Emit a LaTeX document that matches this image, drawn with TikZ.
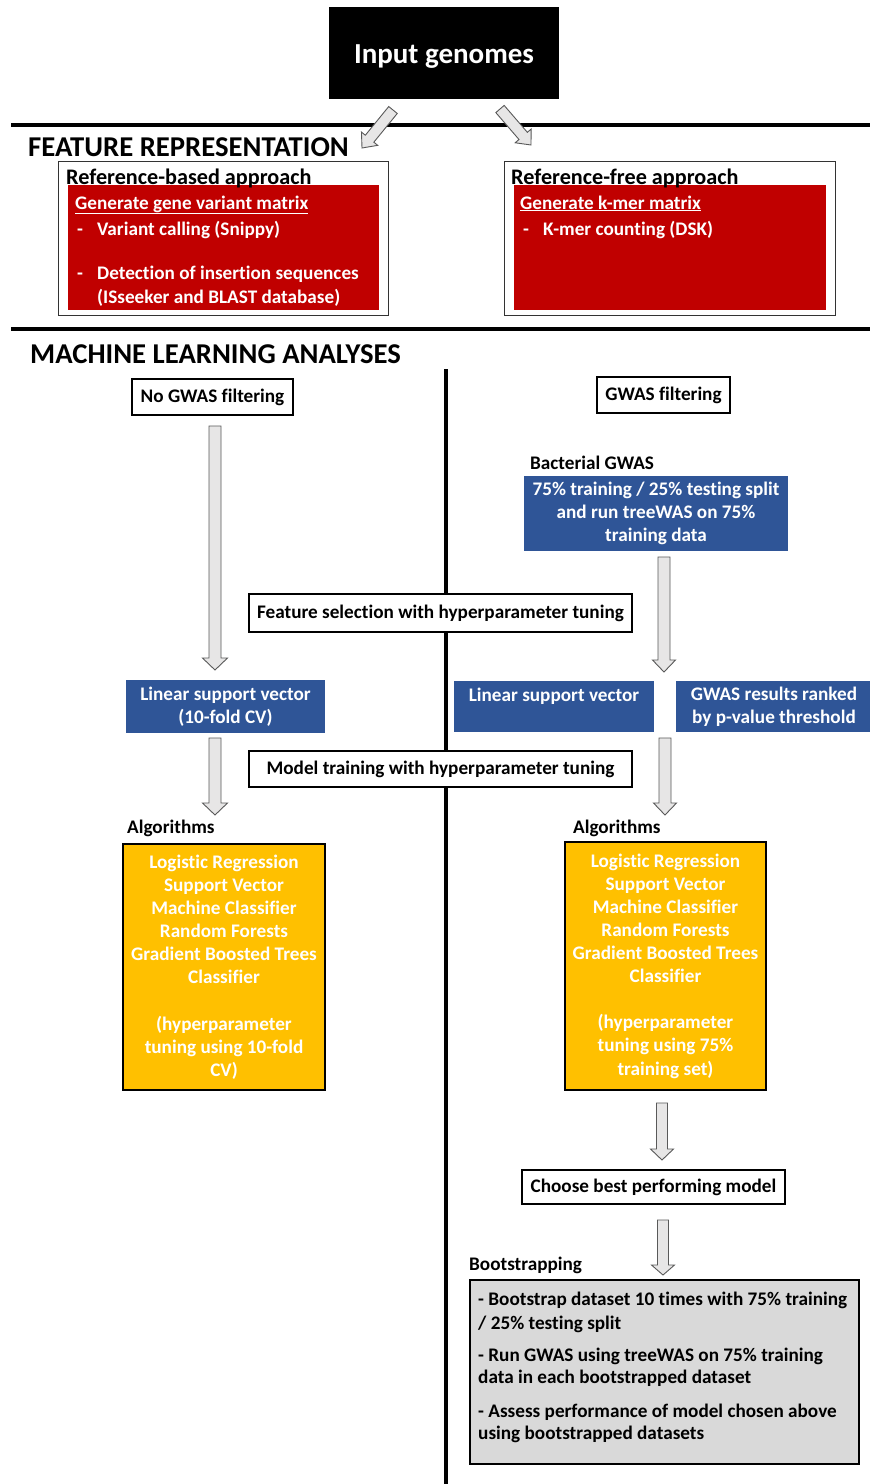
\documentclass[tikz,border=0pt]{standalone}
\usepackage{fontspec}
\setmainfont{Carlito}[Ligatures={NoCommon}]
\usetikzlibrary{calc}
\definecolor{cred}{HTML}{C00000}
\definecolor{cblue}{HTML}{2F5597}
\definecolor{corange}{HTML}{FFC000}
\definecolor{cgraybox}{HTML}{D9D9D9}
\definecolor{carrfill}{HTML}{E7E6E6}
\definecolor{carrline}{HTML}{595959}
\newcommand\fbody{\fontsize{19.2}{23.1}\selectfont\bfseries}
\newcommand\fhead{\fontsize{28.7}{32}\selectfont\bfseries}
\newcommand\fsub{\fontsize{22.2}{26}\selectfont\bfseries}
\newcommand\ftitle{\fontsize{29}{33}\selectfont\bfseries}
\newcommand\fatarrow[5]{%
 \coordinate (hb) at ($(#2)!#5pt!(#1)$);
 \draw[fatarr] ($(#1)!#3pt!90:(#2)$) -- ($(hb)!#3pt!90:(#2)$) -- ($(hb)!#4pt!90:(#2)$) -- (#2)
   -- ($(hb)!#4pt!-90:(#2)$) -- ($(hb)!#3pt!-90:(#2)$) -- ($(#1)!#3pt!-90:(#2)$) -- cycle;}
\tikzset{
 wbox/.style={draw=black, line width=1.8pt, fill=white, inner sep=0pt, align=center, font=\fbody},
 bbox/.style={fill=cblue, text=white, inner sep=0pt, align=center, font=\fbody},
 obox/.style={fill=corange, draw=black, line width=1.8pt, text=white, inner sep=0pt, align=center, font=\fbody},
 lbl/.style={anchor=base west, inner sep=0pt, font=\fbody},
 wlbl/.style={lbl, text=white},
 fatarr/.style={fill=carrfill, draw=carrline, line width=0.9pt, line join=miter},
 rulebar/.style={line width=4.5pt},
 outerbox/.style={draw=black!80, line width=1pt, fill=white, inner sep=0pt},
 redbox/.style={fill=cred, inner sep=0pt},
}
\begin{document}
\begin{tikzpicture}[x=1pt,y=-1pt]
\useasboundingbox[fill=white] (0,0) rectangle (870,1484);

% title
\node[fill=black, minimum width=230, minimum height=92, inner sep=0pt] (input) at (444,53) {};
\node[text=white, font=\ftitle, inner sep=0pt] (inputtxt) at (444,56.5) {Input genomes};

% rules
\coordinate (r1a) at (11,125); \coordinate (r1b) at (870,125);
\coordinate (r2a) at (11,329); \coordinate (r2b) at (870,329);
\draw[rulebar] (r1a) -- (r1b);
\draw[rulebar] (r2a) -- (r2b);

% diagonal arrows
\coordinate (d1s) at (393,110); \coordinate (d1t) at (362,148);
\coordinate (d2s) at (500,109); \coordinate (d2t) at (531,145);
\fatarrow{d1s}{d1t}{5.5}{10.5}{12}
\fatarrow{d2s}{d2t}{5.5}{10.5}{12}

\node[lbl, font=\fhead] (feat) at (28,156) {FEATURE REPRESENTATION};

% feature boxes
\node[outerbox, minimum width=330, minimum height=154] (refb) at (223,238) {};
\node[redbox, minimum width=311, minimum height=125] (refbred) at (223.5,247.5) {};
\node[lbl, font=\fsub] (refbt) at (66,184) {Reference-based approach};
\node[wlbl] (g1) at (75,209) {\underline{Generate gene variant matrix}};
\node[wlbl] (g1d1) at (77,235) {-};
\node[wlbl] (g1a) at (97,235) {Variant calling (Snippy)};
\node[wlbl] (g1d2) at (77,279) {-};
\node[wlbl] (g1b) at (97,279) {Detection of insertion sequences};
\node[wlbl] (g1c) at (97,303) {(ISseeker and BLAST database)};

\node[outerbox, minimum width=331, minimum height=154] (reff) at (669.5,238) {};
\node[redbox, minimum width=312, minimum height=125] (reffred) at (670,247.5) {};
\node[lbl, font=\fsub] (refft) at (511,184) {Reference-free approach};
\node[wlbl] (g2) at (520,209) {\underline{Generate k-mer matrix}};
\node[wlbl] (g2d1) at (523,235) {-};
\node[wlbl] (g2a) at (543,235) {K-mer counting (DSK)};

\node[lbl, font=\fhead] (ml) at (30,363) {MACHINE LEARNING ANALYSES};

% separator
\coordinate (vs) at (446,369); \coordinate (ve) at (446,1484);
\draw[line width=3.5pt] (vs) -- (ve);

% columns
\node[wbox, minimum width=161, minimum height=36] (nogwas) at (212.5,397) {No GWAS filtering};
\node[wbox, minimum width=133, minimum height=36] (gwas) at (663.5,395) {GWAS filtering};

\node[lbl] (bact) at (530,469) {Bacterial GWAS};
\node[bbox, minimum width=264, minimum height=75] (split) at (656,513.5) {75\% training / 25\% testing split\\and run treeWAS on 75\%\\training data};

\node[wbox, minimum width=383, minimum height=38] (featsel) at (440.5,613) {Feature selection with hyperparameter tuning};

\node[bbox, minimum width=199, minimum height=53] (lsv1) at (225.5,706.5) {Linear support vector\\(10-fold CV)};
\node[bbox, minimum width=200, minimum height=51] (lsv2) at (554,706.5) {Linear support vector\\\mbox{}};
\node[bbox, minimum width=196, minimum height=51] (rank) at (774,706.5) {GWAS results ranked\\by p-value threshold};

\node[wbox, minimum width=383, minimum height=36] (modtr) at (440.5,769) {Model training with hyperparameter tuning};

\node[lbl] (alg1) at (127,833) {Algorithms};
\node[lbl] (alg2) at (573,833) {Algorithms};

\node[obox, minimum width=202, minimum height=246] (algs1) at (224,967) {Logistic Regression\\Support Vector\\Machine Classifier\\Random Forests\\Gradient Boosted Trees\\Classifier\\[23.1pt](hyperparameter\\tuning using 10-fold\\CV)};
\node[obox, minimum width=201, minimum height=248] (algs2) at (665.5,966) {Logistic Regression\\Support Vector\\Machine Classifier\\Random Forests\\Gradient Boosted Trees\\Classifier\\[23.1pt](hyperparameter\\tuning using 75\%\\training set)};

\node[wbox, minimum width=263, minimum height=34] (best) at (653.5,1187) {Choose best performing model};

\node[lbl] (boot) at (469,1270) {Bootstrapping};
\node[draw=black, line width=1.8pt, fill=cgraybox, minimum width=389, minimum height=184, inner sep=0pt] (bootbox) at (664.5,1372) {};
\node[lbl] (bt1) at (478,1305) {- Bootstrap dataset 10 times with 75\% training};
\node[lbl] (bt2) at (478,1329) {/ 25\% testing split};
\node[lbl] (bt3) at (478,1361) {- Run GWAS using treeWAS on 75\% training};
\node[lbl] (bt4) at (478,1383) {data in each bootstrapped dataset};
\node[lbl] (bt5) at (478,1417) {- Assess performance of model chosen above};
\node[lbl] (bt6) at (478,1439) {using bootstrapped datasets};

% vertical block arrows
\coordinate (a1s) at (215,426); \coordinate (a1t) at (215,670);
\coordinate (a2s) at (664,557); \coordinate (a2t) at (664,672);
\coordinate (a3s) at (215,738); \coordinate (a3t) at (215,815);
\coordinate (a4s) at (665,738); \coordinate (a4t) at (665,815);
\coordinate (a5s) at (662,1103); \coordinate (a5t) at (662,1160);
\coordinate (a6s) at (663,1220); \coordinate (a6t) at (663,1275);
\fatarrow{a1s}{a1t}{6}{12.5}{12}
\fatarrow{a2s}{a2t}{6}{11.5}{12}
\fatarrow{a3s}{a3t}{6}{12.5}{12}
\fatarrow{a4s}{a4t}{6}{11.5}{12}
\fatarrow{a5s}{a5t}{5.5}{11.5}{11}
\fatarrow{a6s}{a6t}{5.5}{11.5}{10}
\end{tikzpicture}
\end{document}
